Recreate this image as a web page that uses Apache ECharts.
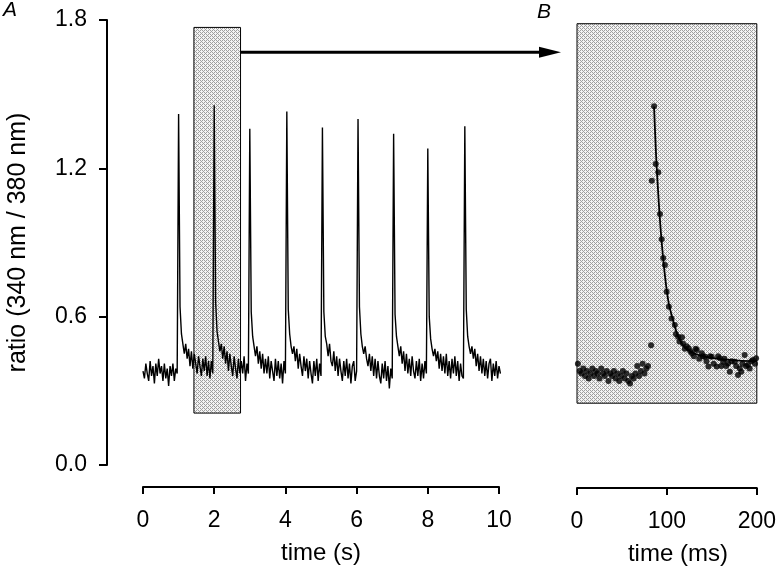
<!DOCTYPE html>
<html>
<head>
<meta charset="utf-8">
<script src="https://cdn.jsdelivr.net/npm/echarts@6/dist/echarts.min.js"></script>
<style>html,body{margin:0;padding:0;background:#fff}#c{width:779px;height:574px}</style>
</head>
<body>
<div id="c"></div>
<script>
// ---------- Panel A data: ratio trace sampled every 0.04 s ----------
const dtA = 0.04;
const traceA = [
 0.38,0.35,0.41,0.37,0.34,0.42,0.36,0.40,0.33,0.41,0.36,0.43,0.37,0.40,0.34,0.41,0.35,0.39,0.32,0.40,0.36,0.41,0.34,0.39,0.37,
 1.42,0.64,0.53,0.49,0.45,0.49,0.43,0.47,0.40,0.46,0.39,0.45,0.41,0.37,0.44,0.40,0.36,0.43,0.38,0.44,0.36,0.42,0.35,0.42,0.37,
 1.455,0.66,0.54,0.50,0.46,0.49,0.43,0.48,0.41,0.46,0.38,0.45,0.40,0.36,0.44,0.39,0.35,0.43,0.37,0.42,0.37,0.44,0.34,0.41,0.37,
 1.36,0.62,0.52,0.48,0.44,0.48,0.41,0.46,0.39,0.45,0.37,0.43,0.37,0.44,0.35,0.42,0.38,0.34,0.43,0.36,0.42,0.35,0.41,0.33,0.42,0.37,
 1.43,0.63,0.53,0.48,0.45,0.48,0.42,0.47,0.39,0.45,0.40,0.36,0.44,0.38,0.43,0.35,0.42,0.37,0.33,0.42,0.36,0.43,0.34,0.41,0.36,
 1.365,0.62,0.52,0.49,0.44,0.49,0.42,0.40,0.46,0.38,0.44,0.36,0.43,0.38,0.34,0.42,0.36,0.43,0.35,0.41,0.33,0.40,0.42,0.34,0.38,
 1.40,0.64,0.53,0.48,0.45,0.48,0.43,0.40,0.45,0.38,0.44,0.36,0.43,0.35,0.42,0.36,0.33,0.41,0.35,0.42,0.34,0.40,0.31,0.39,0.35,
 1.34,0.61,0.52,0.48,0.44,0.48,0.41,0.46,0.38,0.45,0.37,0.43,0.36,0.44,0.38,0.35,0.42,0.36,0.43,0.34,0.41,0.35,0.42,0.37,
 1.28,0.60,0.51,0.47,0.44,0.47,0.42,0.46,0.39,0.45,0.38,0.44,0.37,0.45,0.36,0.42,0.35,0.43,0.37,0.44,0.36,0.42,0.34,0.41,0.36,0.35,
 1.37,0.63,0.52,0.48,0.45,0.48,0.43,0.47,0.40,0.45,0.38,0.44,0.37,0.43,0.36,0.42,0.35,0.41,0.43,0.34,0.41,0.36,0.42,0.35,0.40,0.37
];
// shaded window in A: [t start, t end, ratio bottom, ratio top]
const boxA = [1.43, 2.74, 0.21, 1.77];
const arrowY = 1.67;

// ---------- Panel B data ----------
const timeB = [1,3,5,7,9,11,13,15,17,19,21,23,25,27,29,31,33,35,37,39,41,43,45,47,49,51,53,55,57,59,61,63,65,67,69,71,73,75,77,79,
 82.4,83.2,85.7,87.6,90.4,92.3,94.2,95.9,97.8,99.7,102.2,105.2,108.8,
 110,112.4,114,116.8,118,120,122,124.2,126,127.8,130,132,133.3,136,138.8,140,142.5,144,146.2,148,149.8,152,155.3,157,159,160.5,162.6,164,166,168.1,170,172,175.5,177,179.1,181,182.7,184,186.5,188,190.1,192,194,195.6,198,199.2];
const ratioB = [0.41,0.38,0.37,0.39,0.36,0.38,0.35,0.37,0.39,0.36,0.38,0.37,0.35,0.39,0.37,0.36,0.38,0.34,0.37,0.36,0.38,0.35,0.37,0.34,0.36,0.38,0.35,0.37,0.34,0.33,0.36,0.35,0.37,0.40,0.36,0.38,0.41,0.37,0.39,0.40,
 0.484,1.15,1.451,1.218,1.184,1.015,0.913,0.837,0.809,0.701,0.640,0.593,0.566,
 0.53,0.519,0.50,0.517,0.49,0.47,0.48,0.472,0.46,0.452,0.44,0.47,0.465,0.43,0.452,0.44,0.438,0.42,0.398,0.44,0.438,0.41,0.398,0.44,0.432,0.40,0.418,0.43,0.40,0.411,0.377,0.42,0.418,0.40,0.364,0.39,0.377,0.41,0.445,0.40,0.405,0.39,0.42,0.425,0.41,0.432];
const fitX = [85.7,88,91,94,98,102,108,113,120,130,142,160,180,200];
const fitY = [1.45,1.25,1.06,0.91,0.76,0.655,0.57,0.515,0.475,0.452,0.438,0.428,0.422,0.42];
const boxB = [0, 202, 0.25, 1.785];

const yTicks = {min: 0, max: 1.8, interval: 0.6};
const xTicksA = {min: 0, max: 10, interval: 2};
const xTicksB = {min: 0, max: 200, interval: 100};

const FONT = "'Liberation Sans', Arial, sans-serif";

function makePattern(){
  const c = document.createElement('canvas');
  c.width = 4; c.height = 4;
  const g = c.getContext('2d');
  g.fillStyle = '#f4f4f4'; g.fillRect(0,0,4,4);
  g.fillStyle = '#a0a0a0';
  const dots = [[0,0],[2,0],[1,1],[0,2],[2,2],[3,3]];
  dots.forEach(d=>g.fillRect(d[0],d[1],1,1));
  return c;
}
const pat = {image: makePattern(), repeat: 'repeat'};

const chart = echarts.init(document.getElementById('c'), null, {renderer:'canvas'});

const axisCommon = {
  axisLine: {show:true, onZero:false, lineStyle:{color:'#000', width:2}},
  axisTick: {show:true, length:7, lineStyle:{color:'#000', width:2}},
  splitLine: {show:false},
  axisLabel: {color:'#000', fontSize:23, fontFamily:FONT, margin:22},
  nameTextStyle: {color:'#000', fontSize:24, fontFamily:FONT},
  nameLocation: 'middle'
};

const option = {
  animation: false,
  backgroundColor: '#fff',
  grid: [
    {left:143, top:20, width:356, height:445},
    {left:577, top:20, width:182, height:445}
  ],
  xAxis: [
    Object.assign({}, axisCommon, {gridIndex:0, type:'value', min:xTicksA.min, max:xTicksA.max, interval:xTicksA.interval, offset:22, name:'time (s)', nameGap:54}),
    Object.assign({}, axisCommon, {gridIndex:1, type:'value', min:xTicksB.min, max:xTicksB.max, interval:xTicksB.interval, offset:23, name:'time (ms)', nameGap:54,
      nameTextStyle:{color:'#000', fontSize:24, fontFamily:FONT, padding:[0,0,0,22]}})
  ],
  yAxis: [
    Object.assign({}, axisCommon, {gridIndex:0, type:'value', min:yTicks.min, max:yTicks.max, interval:yTicks.interval, offset:36,
      axisTick:{show:true, inside:false, length:8, lineStyle:{color:'#000', width:2}},
      axisLabel:{color:'#000', fontSize:23, fontFamily:FONT, margin:20, formatter:v=>v.toFixed(1)},
      nameTextStyle:{color:'#000', fontSize:25, fontFamily:FONT},
      name:'ratio (340 nm / 380 nm)', nameGap:76}),
    {gridIndex:1, type:'value', min:yTicks.min, max:yTicks.max, show:false}
  ],
  series: [
    {
      type:'line', xAxisIndex:0, yAxisIndex:0, showSymbol:false, silent:true,
      data: traceA.map((v,i)=>[i*dtA, v]),
      lineStyle:{color:'#000', width:1.4},
      markArea:{silent:true, itemStyle:{color:pat, borderColor:'#000', borderWidth:1},
        data:[[{coord:[boxA[0], boxA[2]]},{coord:[boxA[1], boxA[3]]}]]}
    },
    {
      type:'scatter', xAxisIndex:1, yAxisIndex:1, symbolSize:6, silent:true,
      itemStyle:{color:'#000'},
      data: timeB.map((t,i)=>[t, ratioB[i]]),
      markArea:{silent:true, itemStyle:{color:pat, borderColor:'#000', borderWidth:1},
        data:[[{coord:[boxB[0], boxB[2]]},{coord:[boxB[1], boxB[3]]}]]},
      z: 3
    },
    {
      type:'line', xAxisIndex:1, yAxisIndex:1, showSymbol:false, silent:true, smooth:0.3,
      data: fitX.map((t,i)=>[t, fitY[i]]),
      lineStyle:{color:'#000', width:1.8}, z: 4
    }
  ]
};
chart.setOption(option);

const p0 = chart.convertToPixel({xAxisIndex:0, yAxisIndex:0}, [boxA[1], arrowY]);
const pB = chart.convertToPixel({xAxisIndex:1, yAxisIndex:1}, [boxB[0], boxB[3]]);
const tip = pB[0] - 16;
chart.setOption({
  graphic: [
    {type:'line', shape:{x1:p0[0], y1:p0[1], x2:tip-18, y2:p0[1]}, style:{stroke:'#000', lineWidth:3}},
    {type:'polygon', shape:{points:[[tip-22,p0[1]-5.5],[tip,p0[1]],[tip-22,p0[1]+5.5]]}, style:{fill:'#000'}},
    {type:'text', left:3, top:0, style:{text:'A', font:"italic 21px 'Liberation Sans', Arial", fill:'#000'}},
    {type:'text', left:537, top:2, style:{text:'B', font:"italic 21px 'Liberation Sans', Arial", fill:'#000'}},
    {type:'text', x:681, y:49, style:{text:'τ = 30 ms', font:"24px 'Liberation Sans', Arial", fill:'#000', textAlign:'center', textVerticalAlign:'middle'}}
  ]
});
</script>
</body>
</html>
